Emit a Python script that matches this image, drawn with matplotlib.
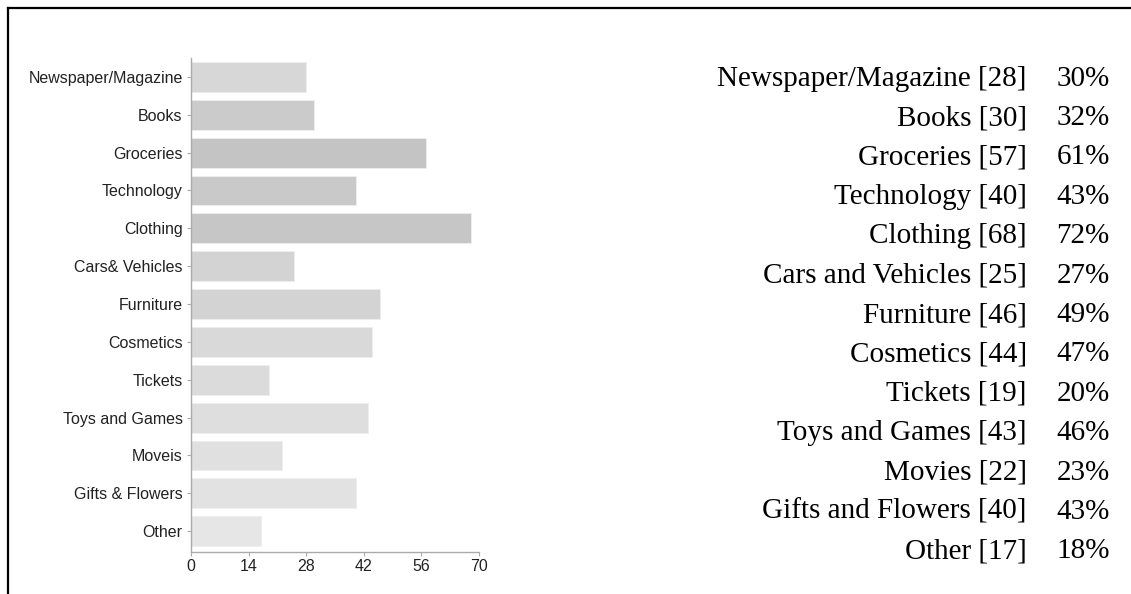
import matplotlib.pyplot as plt
import numpy as np

# survey answers: what people buy online
bar_labels = ["Newspaper/Magazine", "Books", "Groceries", "Technology", "Clothing",
              "Cars& Vehicles", "Furniture", "Cosmetics", "Tickets", "Toys and Games",
              "Moveis", "Gifts & Flowers", "Other"]
table_labels = ["Newspaper/Magazine", "Books", "Groceries", "Technology", "Clothing",
                "Cars and Vehicles", "Furniture", "Cosmetics", "Tickets", "Toys and Games",
                "Movies", "Gifts and Flowers", "Other"]
counts = [28, 30, 57, 40, 68, 25, 46, 44, 19, 43, 22, 40, 17]
percents = [30, 32, 61, 43, 72, 27, 49, 47, 20, 46, 23, 43, 18]
bar_colors = ["#d7d7d7", "#cbcbcb", "#c4c4c4", "#c9c9c9", "#c6c6c6", "#d3d3d3", "#d3d3d3",
              "#d9d9d9", "#dbdbdb", "#dedede", "#e0e0e0", "#e2e2e2", "#e6e6e6"]
x_ticks = [0, 14, 28, 42, 56, 70]

W, H = 1131, 594
fig = plt.figure(figsize=(W / 100, H / 100), dpi=100)

# bar chart on the left
ax = fig.add_axes([191 / W, 1 - 552 / H, (479 - 191) / W, (552 - 58) / H])
y = np.arange(len(bar_labels))
ax.barh(y, counts, height=0.79, color=bar_colors, edgecolor="#eeeeee", linewidth=0.6)
ax.set_xlim(0, 70)
ax.set_ylim(12.55, -0.5)
ax.set_yticks(y)
ax.set_yticklabels(bar_labels, family="Liberation Sans", fontsize=11.5, color="#222222")
ax.set_xticks(x_ticks)
ax.set_xticklabels([str(t) for t in x_ticks], family="Liberation Sans", fontsize=11.5, color="#222222")
ax.tick_params(axis="y", length=3, width=0.8, color="#aaaaaa", pad=3)
ax.tick_params(axis="x", length=3, width=0.8, color="#aaaaaa", pad=2)
for s in ["top", "right"]:
    ax.spines[s].set_visible(False)
for s in ["left", "bottom"]:
    ax.spines[s].set_color("#aaaaaa")
    ax.spines[s].set_linewidth(1.0)

# text table on the right
ax2 = fig.add_axes([680 / W, 1 - 571 / H, 451 / W, (571 - 59) / H])
ax2.set_xlim(0, 1)
ax2.set_ylim(12.5, -0.5)
ax2.axis("off")
for i in range(len(table_labels)):
    ax2.text(0.769, i, f"{table_labels[i]} [{counts[i]}]", ha="right", va="center",
             family="Liberation Serif", fontsize=21, color="black")
    ax2.text(0.953, i, f"{percents[i]}%", ha="right", va="center",
             family="Liberation Serif", fontsize=21, color="black")

# frame lines at top and left
fig.add_artist(plt.Line2D([8 / W, 1], [1 - 8 / H, 1 - 8 / H], color="black", linewidth=1.6))
fig.add_artist(plt.Line2D([8 / W, 8 / W], [0, 1 - 8 / H], color="black", linewidth=1.6))

fig.savefig("out.png", dpi=100)
